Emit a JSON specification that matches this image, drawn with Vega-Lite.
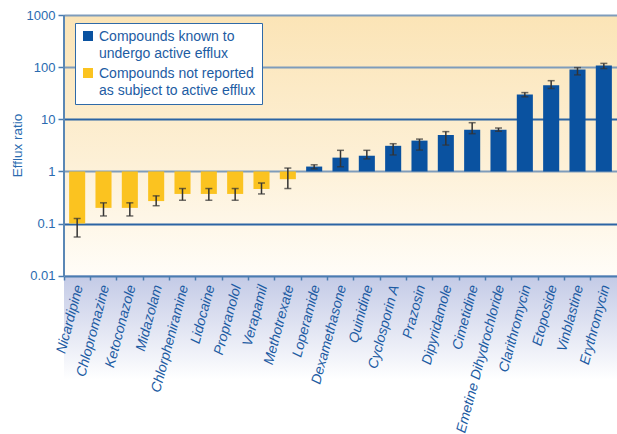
{
  "$schema": "https://vega.github.io/schema/vega-lite/v6.json",
  "width": 553,
  "height": 365,
  "autosize": "none",
  "padding": {"left": 64, "top": 15, "right": 0, "bottom": 54},
  "config": {
    "font": "Liberation Sans",
    "view": {
      "stroke": null,
      "fill": {"gradient": "linear", "x1": 0, "y1": 0, "x2": 0, "y2": 1,
        "stops": [{"offset": 0, "color": "#fbe4b6"}, {"offset": 0.4, "color": "#fdf0d6"}, {"offset": 0.715, "color": "#fffdf8"}, {"offset": 1, "color": "#ffffff"}]}
    }
  },
  "data": {
    "values": [
      {"Compound": "Nicardipine", "Ratio": 0.10, "Lo": 0.055, "Hi": 0.125, "Type": "Compounds not reported|as subject to active efflux"},
      {"Compound": "Chlopromazine", "Ratio": 0.20, "Lo": 0.14, "Hi": 0.25, "Type": "Compounds not reported|as subject to active efflux"},
      {"Compound": "Ketoconazole", "Ratio": 0.20, "Lo": 0.14, "Hi": 0.25, "Type": "Compounds not reported|as subject to active efflux"},
      {"Compound": "Midazolam", "Ratio": 0.27, "Lo": 0.22, "Hi": 0.34, "Type": "Compounds not reported|as subject to active efflux"},
      {"Compound": "Chlorpheniramine", "Ratio": 0.37, "Lo": 0.28, "Hi": 0.47, "Type": "Compounds not reported|as subject to active efflux"},
      {"Compound": "Lidocaine", "Ratio": 0.37, "Lo": 0.28, "Hi": 0.47, "Type": "Compounds not reported|as subject to active efflux"},
      {"Compound": "Propranolol", "Ratio": 0.37, "Lo": 0.28, "Hi": 0.47, "Type": "Compounds not reported|as subject to active efflux"},
      {"Compound": "Verapamil", "Ratio": 0.46, "Lo": 0.37, "Hi": 0.60, "Type": "Compounds not reported|as subject to active efflux"},
      {"Compound": "Methotrexate", "Ratio": 0.71, "Lo": 0.47, "Hi": 1.16, "Type": "Compounds not reported|as subject to active efflux"},
      {"Compound": "Loperamide", "Ratio": 1.24, "Lo": 1.12, "Hi": 1.34, "Type": "Compounds known to|undergo active efflux"},
      {"Compound": "Dexamethasone", "Ratio": 1.84, "Lo": 1.23, "Hi": 2.54, "Type": "Compounds known to|undergo active efflux"},
      {"Compound": "Quinidine", "Ratio": 2.0, "Lo": 1.74, "Hi": 2.54, "Type": "Compounds known to|undergo active efflux"},
      {"Compound": "Cyclosporin A", "Ratio": 3.1, "Lo": 2.07, "Hi": 3.4, "Type": "Compounds known to|undergo active efflux"},
      {"Compound": "Prazosin", "Ratio": 3.9, "Lo": 2.57, "Hi": 4.17, "Type": "Compounds known to|undergo active efflux"},
      {"Compound": "Dipyridamole", "Ratio": 5.0, "Lo": 3.2, "Hi": 5.8, "Type": "Compounds known to|undergo active efflux"},
      {"Compound": "Cimetidine", "Ratio": 6.3, "Lo": 5.3, "Hi": 8.6, "Type": "Compounds known to|undergo active efflux"},
      {"Compound": "Emetine Dihydrochloride", "Ratio": 6.3, "Lo": 5.9, "Hi": 6.8, "Type": "Compounds known to|undergo active efflux"},
      {"Compound": "Clarithromycin", "Ratio": 30, "Lo": 27, "Hi": 32.5, "Type": "Compounds known to|undergo active efflux"},
      {"Compound": "Etoposide", "Ratio": 45, "Lo": 39, "Hi": 55, "Type": "Compounds known to|undergo active efflux"},
      {"Compound": "Vinblastine", "Ratio": 90, "Lo": 71, "Hi": 98, "Type": "Compounds known to|undergo active efflux"},
      {"Compound": "Erythromycin", "Ratio": 107, "Lo": 94, "Hi": 118, "Type": "Compounds known to|undergo active efflux"}
    ]
  },
  "encoding": {
    "x": {
      "field": "Compound", "type": "nominal", "sort": null,
      "scale": {"paddingInner": 0, "paddingOuter": 0},
      "axis": {
        "title": null, "orient": "bottom", "offset": -104, "zindex": 1,
        "domain": true, "domainColor": "#4a7cb0", "domainWidth": 2,
        "bandPosition": 0, "labelOffset": 2,
        "ticks": true, "tickSize": 4, "tickColor": "#4a7cb0", "tickWidth": 1.5,
        "labelAngle": -75, "labelAlign": "right", "labelBaseline": "middle",
        "labelPadding": 5, "labelFontSize": 14, "labelFontStyle": "italic",
        "labelColor": "#1d5ca3", "labelLimit": 250, "labelOverlap": false
      }
    }
  },
  "layer": [
    {
      "mark": {"type": "rect", "fill": {"gradient": "linear", "x1": 0, "y1": 0, "x2": 0, "y2": 1,
        "stops": [{"offset": 0, "color": "#c3cae6"}, {"offset": 1, "color": "#ffffff"}]}},
      "encoding": {
        "x": null,
        "y": {"datum": 0.01, "type": "quantitative"},
        "y2": {"datum": 0.0001}
      }
    },
    {
      "mark": {"type": "bar", "width": {"band": 0.61}},
      "encoding": {
        "y": {
          "field": "Ratio", "type": "quantitative", "title": "Efflux ratio",
          "scale": {"type": "log", "domain": [0.0001, 1000]},
          "axis": {
            "title": "Efflux ratio", "titleFontSize": 13.5, "titleFontWeight": "normal",
            "titleColor": "#2a6bb0", "titleY": 130, "titleX": -40,
            "values": [0.01, 0.1, 1, 10, 100, 1000], "format": "~g",
            "domain": false, "tickSize": 6, "tickColor": "#4a7cb0", "tickWidth": 1.5,
            "labelFontSize": 13, "labelColor": "#2a6bb0", "labelPadding": 3,
            "grid": true, "gridWidth": 2,
            "gridColor": {"condition": {"test": "datum.value == 10 || datum.value == 0.1", "value": "#2b64a4"}, "value": "#7e9cbb"}
          }
        },
        "y2": {"datum": 1},
        "color": {
          "field": "Type", "type": "nominal",
          "scale": {"domain": ["Compounds known to|undergo active efflux", "Compounds not reported|as subject to active efflux"], "range": ["#0a52a0", "#fbc320"]},
          "legend": {
            "title": null, "orient": "none", "legendX": 11, "legendY": 8,
            "fillColor": "#ffffff", "strokeColor": "#2f6aa8", "padding": 6,
            "labelExpr": "split(datum.label, '|')", "labelFontSize": 14, "labelColor": "#1d5ca3",
            "labelLimit": 300, "labelBaseline": "alphabetic", "labelOffset": 4,
            "symbolType": "square", "symbolSize": 100, "symbolStrokeWidth": 0, "symbolOpacity": 1,
            "rowPadding": 5,
            "encode": {"labels": {"update": {"lineHeight": {"value": 17}, "dy": {"value": 5}}}}
          }
        }
      }
    },
    {
      "mark": {"type": "errorbar", "ticks": {"size": 7, "thickness": 1.5}, "rule": {"strokeWidth": 1.5}, "color": "#333333"},
      "encoding": {
        "y": {"field": "Lo", "type": "quantitative", "title": "Efflux ratio"},
        "y2": {"field": "Hi"}
      }
    },
    {
      "mark": {"type": "rule", "color": "#5a87b5", "strokeWidth": 2},
      "encoding": {
        "x": {"datum": "Nicardipine", "bandPosition": 0},
        "y": {"datum": 0.01, "type": "quantitative"},
        "y2": {"datum": 1000}
      }
    }
  ]
}
